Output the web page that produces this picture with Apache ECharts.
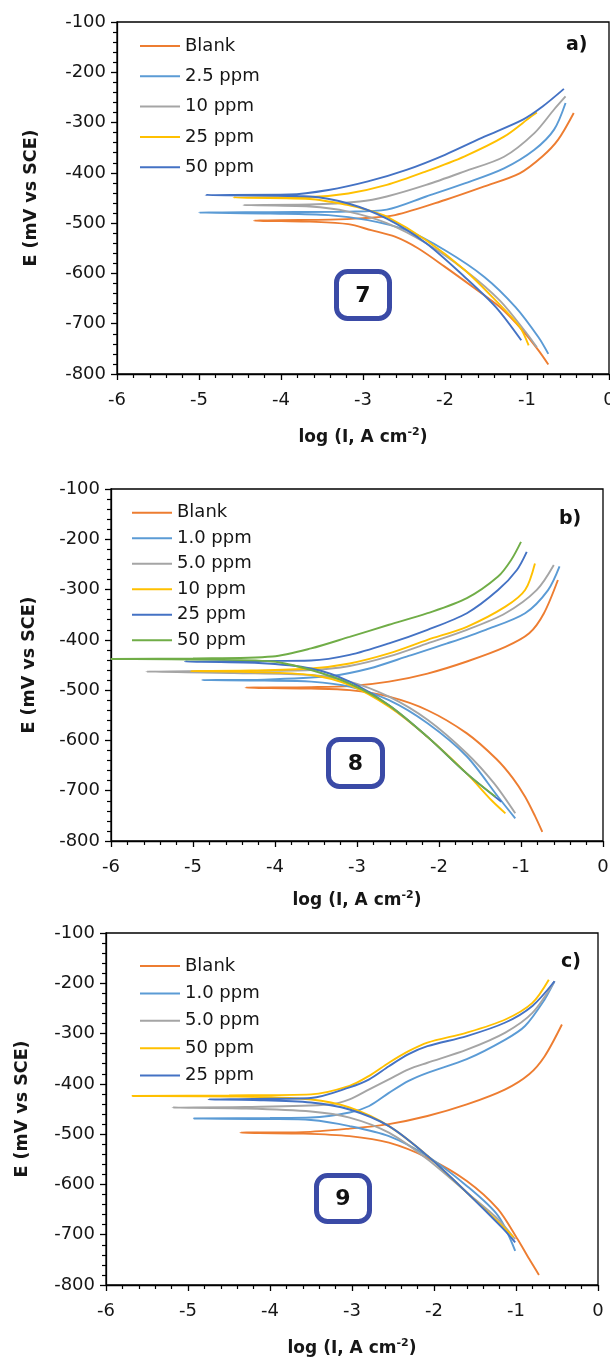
<!DOCTYPE html>
<html>
<head>
<meta charset="utf-8">
<script src="https://cdn.jsdelivr.net/npm/echarts@6/dist/echarts.min.js"></script>
<style>
  html, body { margin: 0; padding: 0; background: #fff; }
  .panel { position: absolute; left: 0; width: 610px; }
</style>
</head>
<body>
<div id="pa" class="panel" style="top:0;height:455px"></div>
<div id="pb" class="panel" style="top:455px;height:455px"></div>
<div id="pc" class="panel" style="top:910px;height:449px"></div>
<script>
// Polarization curves: [log I (A cm-2), E (mV vs SCE)], cathodic end -> Ecorr tip -> anodic end

// ---- a) inhibitor 7 ----
const a_blank = [[-0.74,-781],[-0.86,-753],[-1.05,-714],[-1.33,-667],[-1.66,-627],[-2.0,-587],[-2.33,-550],[-2.61,-527],[-2.9,-514],[-3.18,-502],[-3.65,-497],[-4.0,-496],[-4.33,-495],[-4.0,-494],[-3.4,-493],[-3.0,-490],[-2.61,-484],[-2.0,-454],[-1.52,-427],[-1.09,-401],[-0.81,-367],[-0.62,-334],[-0.43,-281]];
const a_2_5 = [[-0.74,-760],[-0.86,-727],[-1.14,-667],[-1.52,-607],[-2.0,-554],[-2.47,-514],[-2.94,-494],[-3.42,-484],[-4.13,-481],[-5.0,-479],[-4.13,-478],[-3.18,-477],[-2.71,-473],[-2.23,-447],[-1.76,-421],[-1.28,-391],[-0.91,-354],[-0.67,-314],[-0.53,-261]];
const a_10 = [[-0.88,-747],[-1.0,-720],[-1.33,-654],[-1.76,-593],[-2.23,-540],[-2.71,-500],[-3.18,-477],[-3.65,-467],[-4.46,-464],[-3.65,-463],[-3.04,-457],[-2.71,-447],[-2.23,-424],[-1.76,-397],[-1.28,-368],[-0.91,-321],[-0.67,-274],[-0.53,-248]];
const a_25 = [[-0.98,-743],[-1.09,-706],[-1.38,-654],[-1.76,-593],[-2.23,-534],[-2.71,-487],[-2.94,-474],[-3.18,-464],[-3.65,-452],[-4.58,-449],[-3.65,-448],[-3.18,-441],[-2.71,-424],[-2.23,-397],[-1.76,-367],[-1.28,-328],[-0.95,-288],[-0.88,-280]];
const a_50 = [[-1.07,-733],[-1.38,-667],[-1.76,-607],[-2.23,-540],[-2.71,-491],[-3.18,-461],[-3.65,-447],[-4.92,-444],[-3.9,-443],[-3.42,-434],[-2.94,-417],[-2.47,-394],[-2.0,-364],[-1.52,-328],[-1.05,-294],[-0.81,-268],[-0.55,-233]];

// ---- b) inhibitor 8 ----
const b_blank = [[-0.74,-782],[-0.83,-750],[-0.95,-712],[-1.1,-675],[-1.3,-637],[-1.66,-586],[-2.14,-540],[-2.61,-513],[-3.09,-500],[-3.56,-497],[-4.36,-495],[-3.56,-494],[-3.09,-492],[-2.61,-483],[-2.14,-467],[-1.66,-443],[-1.19,-414],[-0.9,-387],[-0.72,-347],[-0.55,-281]];
const b_1_0 = [[-1.07,-755],[-1.28,-712],[-1.66,-632],[-2.14,-566],[-2.61,-520],[-3.09,-493],[-3.56,-483],[-4.13,-481],[-4.89,-480],[-4.13,-479],[-3.32,-472],[-2.85,-457],[-2.37,-432],[-1.9,-407],[-1.43,-380],[-0.95,-347],[-0.67,-301],[-0.53,-254]];
const b_5_0 = [[-1.07,-745],[-1.33,-685],[-1.66,-626],[-2.14,-559],[-2.61,-513],[-3.09,-483],[-3.56,-470],[-4.5,-466],[-5.57,-463],[-4.5,-462],[-3.56,-460],[-3.09,-452],[-2.61,-433],[-2.14,-407],[-1.66,-380],[-1.19,-347],[-0.81,-301],[-0.6,-251]];
const b_10 = [[-1.19,-745],[-1.36,-719],[-1.66,-666],[-2.14,-593],[-2.61,-533],[-3.09,-490],[-3.56,-470],[-4.3,-464],[-5.03,-462],[-4.3,-461],[-3.56,-457],[-3.09,-447],[-2.61,-427],[-2.14,-400],[-1.66,-374],[-1.19,-334],[-0.95,-301],[-0.83,-248]];
const b_25 = [[-1.24,-722],[-1.66,-666],[-2.14,-593],[-2.61,-530],[-3.09,-483],[-3.56,-457],[-4.2,-446],[-5.1,-443],[-4.2,-442],[-3.56,-441],[-3.09,-430],[-2.61,-407],[-2.14,-380],[-1.66,-347],[-1.28,-301],[-1.05,-261],[-0.93,-225]];
const b_50 = [[-1.31,-712],[-1.66,-666],[-2.14,-593],[-2.61,-530],[-3.09,-487],[-3.56,-460],[-4.03,-443],[-5.0,-439],[-6.0,-438],[-5.0,-437],[-4.03,-433],[-3.56,-417],[-3.09,-394],[-2.61,-370],[-2.14,-347],[-1.66,-317],[-1.28,-274],[-1.12,-241],[-1.0,-205]];

// ---- c) inhibitor 9 ----
const c_blank = [[-0.72,-780],[-0.84,-748],[-0.98,-709],[-1.22,-649],[-1.6,-593],[-2.08,-547],[-2.55,-517],[-3.03,-504],[-3.6,-499],[-4.36,-497],[-3.6,-496],[-3.03,-489],[-2.55,-480],[-2.08,-464],[-1.6,-441],[-1.13,-411],[-0.84,-381],[-0.65,-345],[-0.44,-282]];
const c_1_0 = [[-1.01,-732],[-1.22,-662],[-1.6,-603],[-2.08,-544],[-2.55,-504],[-3.03,-484],[-3.5,-472],[-4.0,-470],[-4.93,-469],[-4.0,-468],[-3.5,-467],[-3.03,-457],[-2.79,-444],[-2.55,-418],[-2.31,-394],[-2.08,-378],[-1.6,-351],[-1.13,-312],[-0.89,-285],[-0.65,-232],[-0.53,-196]];
const c_5_0 = [[-1.01,-709],[-1.22,-669],[-1.6,-616],[-2.08,-550],[-2.55,-497],[-3.03,-467],[-3.5,-455],[-4.3,-449],[-5.19,-447],[-4.3,-446],[-3.27,-441],[-3.03,-431],[-2.79,-411],[-2.55,-391],[-2.31,-371],[-2.08,-358],[-1.6,-332],[-1.13,-298],[-0.8,-259],[-0.53,-196]];
const c_50 = [[-1.03,-705],[-1.17,-682],[-1.6,-616],[-2.08,-543],[-2.55,-484],[-3.03,-447],[-3.5,-431],[-4.5,-425],[-5.68,-424],[-4.5,-423],[-3.5,-421],[-3.03,-404],[-2.79,-384],[-2.55,-358],[-2.31,-335],[-2.08,-318],[-1.6,-298],[-1.13,-272],[-0.8,-239],[-0.6,-193]];
const c_25 = [[-1.01,-715],[-1.17,-686],[-1.6,-616],[-2.08,-543],[-2.55,-484],[-3.03,-451],[-3.5,-437],[-4.2,-432],[-4.75,-431],[-4.2,-430],[-3.5,-428],[-3.03,-407],[-2.79,-391],[-2.55,-365],[-2.31,-341],[-2.08,-325],[-1.6,-305],[-1.13,-278],[-0.8,-245],[-0.53,-196]];

const namesA = ['Blank', '2.5 ppm', '10 ppm', '25 ppm', '50 ppm'];
const namesB = ['Blank', '1.0 ppm', '5.0 ppm', '10 ppm', '25 ppm', '50 ppm'];
const namesC = ['Blank', '1.0 ppm', '5.0 ppm', '50 ppm', '25 ppm'];

const ORANGE = '#ED7D31', LBLUE = '#5B9BD5', GRAY = '#A5A5A5', GOLD = '#FFC000', DBLUE = '#4472C4', GREEN = '#70AD47';
const FONT = '"DejaVu Sans", "Liberation Sans", sans-serif';
const INK = '#161616';
const BOX = '#3A4AA6';

function buildOption(p) {
  const axisLine = { onZero: false, lineStyle: { color: '#000', width: 1.3 } };
  return {
    animation: false,
    textStyle: { fontFamily: FONT },
    grid: { left: p.grid[0], top: p.grid[1], width: 492, height: 352, show: true,
            borderColor: '#000', borderWidth: 1.3, outerBoundsMode: 'none', containLabel: false },
    legend: {
      orient: 'vertical', left: p.legend[0], top: p.legend[1], itemGap: p.legend[2], padding: 0,
      icon: 'rect', itemWidth: 40, itemHeight: 2, selectedMode: false,
      textStyle: { fontSize: 18, color: INK, lineHeight: 16, fontFamily: FONT },
      data: p.names
    },
    xAxis: {
      type: 'value', min: -6, max: 0, interval: 1,
      name: 'log (I, A cm{sup|-2})', nameLocation: 'middle', nameGap: p.xGap,
      nameTextStyle: { fontSize: 17, fontWeight: 'bold', color: INK, lineHeight: 22,
        rich: { sup: { fontSize: 11, fontWeight: 'bold', color: INK, verticalAlign: 'top', lineHeight: 12 } } },
      axisLine: axisLine,
      axisTick: { show: true, inside: false, length: 6, lineStyle: { color: '#000', width: 1.3 } },
      minorTick: { show: true, splitNumber: 5, length: 4, lineStyle: { color: '#000', width: 1.2 } },
      axisLabel: { fontSize: 18, color: INK, margin: 17 },
      splitLine: { show: false }
    },
    yAxis: {
      type: 'value', min: -800, max: -100, interval: 100,
      name: 'E (mV vs SCE)', nameLocation: 'middle', nameGap: p.yGap,
      nameTextStyle: { fontSize: 17.5, fontWeight: 'bold', color: INK },
      axisLine: axisLine,
      axisTick: { show: true, inside: false, length: 6, lineStyle: { color: '#000', width: 1.3 } },
      minorTick: { show: true, splitNumber: 5, length: 4, lineStyle: { color: '#000', width: 1.2 } },
      axisLabel: { fontSize: 18, color: INK, margin: 11 },
      splitLine: { show: false }
    },
    series: p.curves.map((d, i) => ({
      name: p.names[i], type: 'line', data: d, smooth: 0.3,
      symbol: 'none', color: p.colors[i],
      lineStyle: { width: 1.9, color: p.colors[i] }
    })),
    graphic: [
      { type: 'rect', shape: { x: p.box[0], y: p.box[1], width: p.box[2], height: p.box[3], r: 11 },
        style: { fill: '#fff', stroke: BOX, lineWidth: 5 }, z: 100 },
      { type: 'text', x: p.box[0] + p.box[2] / 2, y: p.box[1] + p.box[3] / 2 + 1, z: 101,
        style: { text: p.tag, fill: '#111', font: 'bold 22px ' + FONT, align: 'center', verticalAlign: 'middle' } },
      { type: 'text', x: p.letter[0], y: p.letter[1], z: 101,
        style: { text: p.letter[2], fill: '#111', font: 'bold 19px ' + FONT, align: 'left', verticalAlign: 'middle' } }
    ]
  };
}

const panels = [
  { el: 'pa', grid: [117, 22], legend: [140, 37, 12.3], xGap: 53, yGap: 77,
    names: namesA, curves: [a_blank, a_2_5, a_10, a_25, a_50], colors: [ORANGE, LBLUE, GRAY, GOLD, DBLUE],
    box: [336.5, 271.5, 53, 47], tag: '7', letter: [566, 45, 'a)'] },
  { el: 'pb', grid: [111, 34], legend: [132, 48.7, 7.5], xGap: 49, yGap: 73,
    names: namesB, curves: [b_blank, b_1_0, b_5_0, b_10, b_25, b_50], colors: [ORANGE, LBLUE, GRAY, GOLD, DBLUE, GREEN],
    box: [328.5, 284.5, 54, 47], tag: '8', letter: [559, 64, 'b)'] },
  { el: 'pc', grid: [106, 23], legend: [140, 47, 9.4], xGap: 53, yGap: 75,
    names: namesC, curves: [c_blank, c_1_0, c_5_0, c_50, c_25], colors: [ORANGE, LBLUE, GRAY, GOLD, DBLUE],
    box: [316.5, 265.5, 53, 46], tag: '9', letter: [561, 52, 'c)'] }
];

panels.forEach(p => {
  const chart = echarts.init(document.getElementById(p.el), null, { renderer: 'canvas' });
  chart.setOption(buildOption(p));
});
</script>
</body>
</html>
